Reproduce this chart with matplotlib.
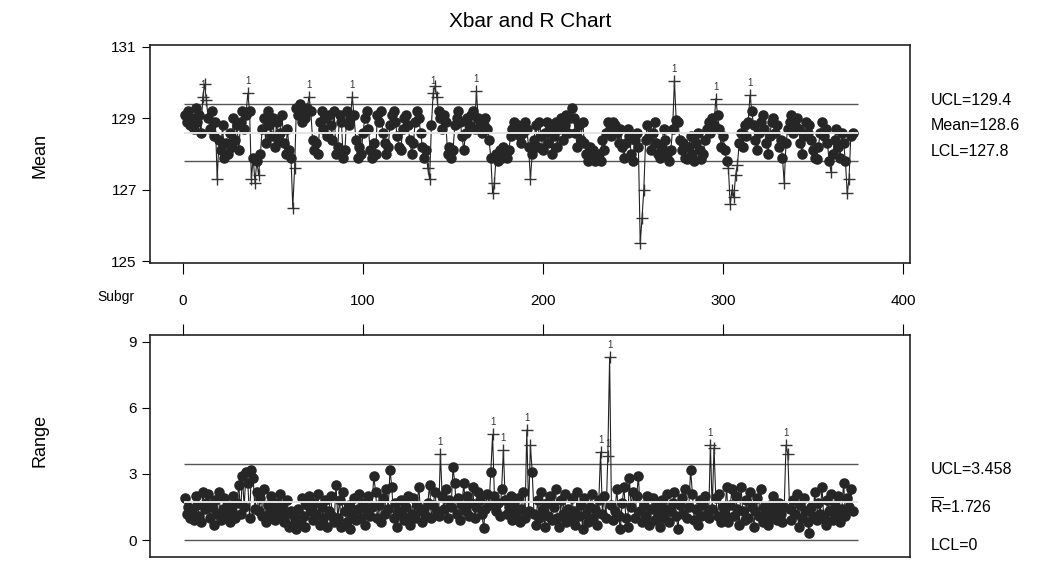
import matplotlib
matplotlib.use("Agg")
import matplotlib.pyplot as plt
import numpy as np

plt.rcParams['font.family'] = ['Liberation Sans Narrow', 'Liberation Sans', 'DejaVu Sans']
plt.rcParams['mathtext.fontset'] = 'custom'
plt.rcParams['mathtext.rm'] = 'Liberation Sans'

# subgroup means (372 subgroups)
xbar = [
    129.1, 128.9, 129.2, 128.8, 129.0, 128.7, 129.3, 128.9, 129.1, 128.6, 129.6, 129.95,
    129.5, 129.0, 128.7, 129.2, 128.5, 128.9, 127.3, 128.4, 128.1, 128.8, 127.9, 128.3,
    128.0, 128.6, 128.2, 129.0, 128.4, 128.8, 128.1, 128.9, 129.2, 128.7, 129.1, 129.7,
    129.2, 127.3, 127.9, 127.2, 127.8, 127.4, 128.0, 128.7, 129.0, 128.3, 129.2, 128.8,
    128.5, 129.0, 128.2, 128.9, 128.4, 128.6, 129.1, 128.3, 128.0, 128.7, 128.1, 127.9,
    126.5, 127.6, 129.3, 129.1, 129.4, 128.9, 129.2, 129.0, 129.3, 129.6, 129.2, 128.4,
    128.1, 128.3, 128.0, 128.9, 129.2, 128.7, 129.0, 128.5, 129.1, 128.8, 128.4, 129.2,
    128.0, 128.2, 129.1, 128.9, 127.9, 128.1, 129.2, 128.8, 129.0, 129.6, 129.1, 128.4,
    127.9, 128.2, 128.0, 128.6, 129.0, 129.2, 128.7, 128.1, 127.9, 128.3, 128.0, 129.1,
    128.9, 129.2, 128.6, 128.3, 128.0, 128.2, 128.8, 129.1, 129.2, 128.9, 128.5, 128.2,
    128.1, 128.7, 129.0, 129.1, 128.8, 128.4, 128.0, 128.3, 128.9, 129.2, 129.0, 128.6,
    128.2, 127.9, 128.1, 127.6, 127.3, 128.8, 129.7, 129.9, 129.6, 129.2, 129.0, 128.7,
    129.1, 128.9, 128.0, 128.2, 127.9, 128.1, 128.8, 129.0, 129.2, 128.9, 128.5, 128.1,
    128.6, 129.0, 128.8, 129.1, 129.2, 128.7, 129.75, 129.0, 128.9, 128.6, 128.8, 129.0,
    128.7, 128.4, 127.9, 126.9, 127.2, 128.0, 127.8, 128.1, 127.9, 128.2, 128.0, 127.9,
    128.1, 128.5, 128.7, 128.9, 128.6, 128.8, 128.5, 128.3, 128.6, 128.9, 128.7, 128.2,
    127.3, 128.0, 128.4, 128.8, 128.2, 128.9, 128.5, 128.1, 128.6, 128.9, 128.3, 128.7,
    128.0, 128.5, 128.9, 128.2, 128.7, 129.0, 128.4, 128.8, 129.1, 128.6, 129.0, 129.3,
    129.0, 128.6, 128.2, 128.8, 128.4, 128.9, 128.3, 128.0, 127.8, 128.2, 127.85, 128.1,
    127.8, 127.85, 128.0, 127.8, 128.4, 128.1, 128.6, 128.9, 128.7, 128.5, 128.9, 128.8,
    128.6, 128.3, 128.7, 128.2, 127.9, 128.3, 128.7, 128.5, 128.0, 127.8, 128.4, 128.6,
    128.2, 125.5, 126.2, 127.0, 128.4, 128.8, 128.5, 128.1, 128.6, 128.9, 128.3, 128.0,
    127.9, 128.2, 128.7, 128.4, 128.0, 127.8, 128.1, 128.7, 130.05, 128.95, 128.9, 128.4,
    128.1, 128.3, 127.9, 127.85, 128.2, 128.5, 128.0, 127.8, 128.3, 128.6, 128.1, 127.85,
    128.0, 128.4, 128.7, 128.9, 128.6, 129.0, 128.8, 129.55, 129.1, 128.7, 128.2, 128.5,
    128.1, 127.8, 127.6, 126.6, 127.0, 126.8, 127.4, 127.7, 128.3, 128.6, 128.2, 128.8,
    128.5, 128.9, 129.65, 129.2, 128.8, 128.4, 128.1, 128.6, 128.9, 129.1, 128.7, 128.3,
    128.0, 128.5, 128.9, 129.0, 128.6, 128.8, 128.2, 128.4, 127.9, 127.2, 128.3, 128.7,
    128.9, 129.1, 128.6, 128.8, 129.0, 128.7, 128.3, 128.0, 128.5, 128.9, 128.6, 128.8,
    128.4, 128.1, 127.9, 127.85, 128.2, 128.6, 128.9, 128.5, 128.7, 128.3, 127.8, 127.5,
    128.0, 128.4, 128.7, 128.2, 127.9, 128.6, 128.3, 127.8, 126.9, 127.3, 128.5, 128.6,
]

# subgroup ranges
rng = [
    1.9, 1.2, 1.5, 1.0, 1.3, 0.9, 2.0, 1.6, 1.1, 0.8, 2.2, 1.4,
    1.7, 2.1, 1.0, 1.5, 0.7, 1.8, 1.2, 2.2, 0.9, 1.4, 1.9, 1.1,
    1.6, 0.8, 1.3, 2.0, 1.0, 1.7, 2.5, 1.2, 2.9, 1.5, 3.1, 2.6,
    1.0, 3.2, 2.8, 1.4, 2.2, 1.3, 1.9, 1.1, 2.3, 0.8, 1.6, 1.2,
    2.0, 1.4, 0.9, 1.7, 1.1, 2.1, 1.5, 0.8, 1.2, 1.8, 0.6, 1.3,
    0.7, 1.0, 0.5, 1.4, 0.8, 1.9, 1.1, 0.6, 1.6, 2.0, 1.3, 0.9,
    1.7, 1.2, 2.1, 0.7, 1.5, 1.0, 1.8, 0.6, 1.3, 2.0, 1.1, 0.8,
    2.5, 1.0, 1.8, 0.6, 2.2, 1.3, 0.8, 1.6, 0.5, 1.2, 1.9, 0.9,
    1.4, 2.1, 1.0, 1.7, 0.7, 1.3, 2.0, 1.1, 1.5, 2.9, 2.2, 1.0,
    1.6, 0.8, 1.9, 1.2, 2.3, 1.4, 3.2, 2.4, 1.0, 1.7, 0.6, 1.3,
    1.8, 1.1, 0.9, 1.5, 2.0, 0.7, 1.2, 1.9, 1.0, 1.6, 2.4, 1.3,
    0.8, 1.4, 1.1, 1.7, 2.5, 1.0, 1.6, 2.2, 1.3, 1.1, 3.9, 2.0,
    1.4, 2.3, 1.0, 1.8, 1.5, 3.3, 2.6, 1.2, 1.9, 0.9, 1.6, 2.6,
    1.3, 2.0, 1.1, 1.7, 2.4, 1.0, 1.5, 2.2, 1.8, 1.2, 0.55, 1.4,
    2.1, 1.6, 3.1, 4.8, 2.0, 1.3, 1.7, 1.1, 2.3, 4.1, 1.8, 1.2,
    1.5, 2.0, 0.9, 1.6, 1.2, 1.9, 0.8, 1.4, 2.2, 1.0, 5.0, 1.3,
    4.3, 3.1, 1.2, 0.7, 1.8, 1.0, 2.2, 1.4, 0.6, 1.7, 1.1, 2.0,
    0.9, 1.5, 2.3, 1.0, 0.6, 1.8, 1.2, 2.1, 0.8, 1.4, 1.0, 1.9,
    1.3, 0.7, 2.2, 1.1, 1.6, 0.5, 1.9, 1.2, 0.8, 1.5, 2.1, 1.0,
    1.4, 0.7, 1.8, 4.0, 1.2, 2.0, 1.0, 3.8, 8.3, 1.6, 0.9, 1.3,
    2.3, 1.1, 0.5, 1.7, 2.4, 1.0, 0.6, 2.8, 1.5, 2.2, 1.0, 2.0,
    2.9, 1.3, 0.8, 1.6, 1.1, 2.0, 0.7, 1.4, 1.9, 0.9, 1.5, 1.2,
    0.6, 1.8, 1.0, 1.4, 2.1, 0.8, 1.3, 1.7, 2.2, 1.1, 0.5, 1.6,
    1.9, 1.2, 2.3, 1.0, 1.5, 3.2, 2.1, 0.9, 1.4, 0.7, 1.8, 1.1,
    1.6, 2.0, 1.2, 1.0, 4.3, 1.4, 4.2, 1.9, 1.1, 2.1, 0.8, 1.5,
    1.2, 2.4, 0.8, 1.6, 2.3, 1.1, 2.0, 1.4, 0.7, 2.4, 1.3, 0.9,
    1.8, 1.0, 2.2, 1.5, 0.6, 1.3, 1.9, 1.1, 2.3, 0.8, 1.5, 1.2,
    0.7, 1.6, 1.0, 2.0, 1.3, 0.9, 1.7, 1.2, 0.8, 1.5, 4.3, 3.9,
    1.4, 0.9, 1.8, 1.2, 2.1, 0.6, 1.6, 1.0, 1.9, 1.3, 0.8, 0.3,
    1.5, 1.1, 2.2, 0.9, 1.7, 1.2, 2.4, 1.0, 0.7, 1.8, 1.3, 2.1,
    0.9, 1.6, 1.2, 2.0, 0.8, 1.4, 2.6, 1.1, 1.9, 1.5, 2.3, 1.3,
]

mean_ucl, mean_cl, mean_lcl = 129.4, 128.6, 127.8
r_ucl, r_cl, r_lcl = 3.458, 1.726, 0.0

xbar = np.array(xbar)
rng = np.array(rng)
subgr = np.arange(1, len(xbar) + 1)

fig = plt.figure(figsize=(10.5, 5.62), dpi=100)
ax1 = fig.add_axes([0.1429, 0.532, 0.7238, 0.388])
ax2 = fig.add_axes([0.1429, 0.009, 0.7238, 0.395])


def draw_panel(ax, y, ucl, cl, lcl, ylim):
    ax.set_ylim(*ylim)
    ax.hlines([ucl, lcl], 0.5, len(y) + 3, colors='#555555', lw=1.0, zorder=1)
    ax.plot(subgr, y, color='#222222', lw=0.8, zorder=2)
    bad = (y > ucl) | (y < lcl)
    ax.plot(subgr[~bad], y[~bad], 'o', color='#262626', ms=7.6, mew=0, zorder=3)
    ax.plot(subgr[bad], y[bad], '+', color='#333333', ms=9, mew=1.0, zorder=3)
    ax.hlines(cl, 0.5, len(y) + 3, colors='#e4e4e4', lw=1.4, zorder=4)
    # "1" flags only above the upper limit, skipping ones that would collide
    span = ylim[1] - ylim[0]
    placed = []
    for xi, yi in zip(subgr, y):
        if yi <= ucl:
            continue
        if any(abs(xi - px) < 4 and abs(yi - py) < 0.12 * span for px, py in placed):
            continue
        placed.append((xi, yi))
        ax.annotate('1', (xi, yi), xytext=(0, 5), textcoords='offset points',
                    ha='center', va='bottom', fontsize=7, color='#333333', zorder=5)
    ax.set_xlim(-18.3, 403.9)
    for sp in ax.spines.values():
        sp.set_linewidth(1.2)
        sp.set_color('#222222')


draw_panel(ax1, xbar, mean_ucl, mean_cl, mean_lcl, (124.95, 131.05))
ax1.set_yticks([125, 127, 129, 131])
ax1.set_xticks([0, 100, 200, 300, 400])
ax1.tick_params(axis='x', direction='out', length=8, pad=14, labelsize=11)
ax1.tick_params(axis='y', direction='out', length=6, labelsize=11)

draw_panel(ax2, rng, r_ucl, r_cl, r_lcl, (-0.77, 9.32))
ax2.set_yticks([0, 3, 6, 9])
ax2.set_xticks([0, 100, 200, 300, 400])
ax2.tick_params(axis='x', direction='out', length=8, top=True, bottom=False,
                labeltop=False, labelbottom=False)
ax2.tick_params(axis='y', direction='out', length=6, labelsize=11)

fig.text(0.505, 0.961, 'Xbar and R Chart', ha='center', va='center', fontsize=15)
fig.text(0.038, 0.724, 'Mean', rotation=90, ha='center', va='center', fontsize=13)
fig.text(0.038, 0.217, 'Range', rotation=90, ha='center', va='center', fontsize=13)
fig.text(0.11, 0.4715, 'Subgr', ha='center', va='center', fontsize=10)

fig.text(0.886, 0.822, 'UCL=129.4', ha='left', va='center', fontsize=11.5)
fig.text(0.886, 0.776, 'Mean=128.6', ha='left', va='center', fontsize=11.5)
fig.text(0.886, 0.730, 'LCL=127.8', ha='left', va='center', fontsize=11.5)
fig.text(0.886, 0.164, 'UCL=3.458', ha='left', va='center', fontsize=11.5)
fig.text(0.886, 0.098, r'$\overline{\mathrm{R}}$=1.726', ha='left', va='center', fontsize=11.5)
fig.text(0.886, 0.030, 'LCL=0', ha='left', va='center', fontsize=11.5)

fig.savefig('out.png', dpi=100)
